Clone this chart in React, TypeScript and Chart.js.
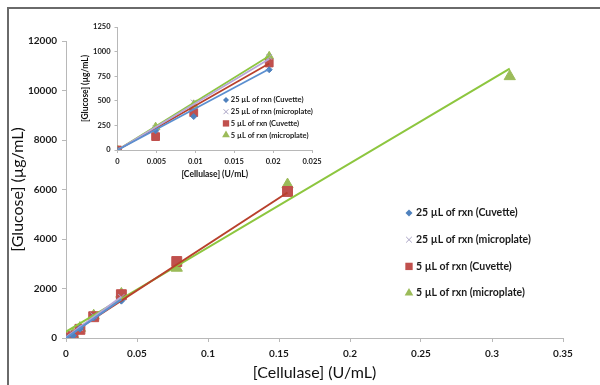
import React, { useEffect, useRef } from 'react';
import { Chart, registerables } from 'chart.js';

Chart.register(...registerables);

// ---------- data ----------
const seriesNames = [
  '25 µL of rxn (Cuvette)',
  '25 µL of rxn (microplate)',
  '5 µL of rxn (Cuvette)',
  '5 µL of rxn (microplate)',
];

// main chart: cellulase (U/mL)
const mainX = [0, 0.0049, 0.0098, 0.0195, 0.039, 0.078, 0.156, 0.3125];
const cuvette25 = [0, 100, 380, 830, 1510];
const micro25 = [0, 150, 420, 900, 1650];
const cuvette5 = [0, 80, 350, 860, 1750, 3090, 5920];
const micro5 = [0, 150, 400, 900, 1780, 2830, 6200, 10570];

// main chart trendline end points
const trendCuvette25X = [0, 0.039];
const trendCuvette25Y = [0, 1560];
const trendMicro25X = [0, 0.039];
const trendMicro25Y = [30, 1660];
const trendCuvette5X = [0, 0.156];
const trendCuvette5Y = [50, 5880];
const trendMicro5X = [0, 0.3125];
const trendMicro5Y = [255, 10880];

// inset chart
const insetX = [0, 0.0049, 0.0098, 0.0195];
const insetCuvette25 = [0, 195, 340, 816];
const insetMicro25 = [0, 221, 483, 946];
const insetCuvette5 = [0, 136, 380, 884];
const insetMicro5 = [0, 232, 459, 952];

const insetTrendX = [0, 0.0195];
const insetTrendCuvette25Y = [0, 823];
const insetTrendMicro25Y = [0, 925];
const insetTrendCuvette5Y = [0, 880];
const insetTrendMicro5Y = [0, 955];

// axes
const mainXMax = 0.35;
const mainXStep = 0.05;
const mainYMax = 12000;
const mainYStep = 2000;
const insetXMax = 0.025;
const insetXStep = 0.005;
const insetYMax = 1250;
const insetYStep = 250;

// ---------- styles ----------
const FONT = 'Lato, "Open Sans", sans-serif';
const markerStyles = [
  { style: 'rectRot', fill: '#4F81BD', stroke: '#4F81BD' },
  { style: 'crossRot', fill: 'rgba(0,0,0,0)', stroke: '#A9A3C4' },
  { style: 'rect', fill: '#C0504D', stroke: '#C0504D' },
  { style: 'triangle', fill: '#9BBB59', stroke: '#9BBB59' },
];
const lineColors = ['#5B8FD0', '#B7A7D8', '#B8402C', '#8DC63F'];
const AXIS = '#b8b8b8';

const pts = (xs: number[], ys: number[]) => ys.map((y, i) => ({ x: xs[i], y }));

function drawMarker(ctx: CanvasRenderingContext2D, style: string, x: number, y: number, r: number, fill: string, stroke: string) {
  ctx.save();
  ctx.fillStyle = fill;
  ctx.strokeStyle = stroke;
  ctx.lineWidth = 1;
  ctx.beginPath();
  if (style === 'rectRot') {
    ctx.moveTo(x, y - r);
    ctx.lineTo(x + r, y);
    ctx.lineTo(x, y + r);
    ctx.lineTo(x - r, y);
    ctx.closePath();
    ctx.fill();
  } else if (style === 'rect') {
    const s = r * Math.SQRT1_2;
    ctx.rect(x - s, y - s, 2 * s, 2 * s);
    ctx.fill();
  } else if (style === 'triangle') {
    ctx.moveTo(x, y - r);
    ctx.lineTo(x + r * 0.866, y + r * 0.5);
    ctx.lineTo(x - r * 0.866, y + r * 0.5);
    ctx.closePath();
    ctx.fill();
  } else {
    const s = r * Math.SQRT1_2;
    ctx.moveTo(x - s, y - s);
    ctx.lineTo(x + s, y + s);
    ctx.moveTo(x + s, y - s);
    ctx.lineTo(x - s, y + s);
    ctx.stroke();
  }
  ctx.restore();
}

function legendPlugin(id: string, x0: number, y0: number, dy: number, gap: number, fontSize: number, radii: number[]) {
  return {
    id,
    afterDraw(chart: any) {
      const ctx = chart.ctx as CanvasRenderingContext2D;
      ctx.save();
      ctx.font = `bold ${fontSize}px ${FONT}`;
      ctx.fillStyle = '#1a1a1a';
      ctx.textBaseline = 'middle';
      ctx.textAlign = 'left';
      seriesNames.forEach((name, i) => {
        const y = y0 + i * dy;
        const m = markerStyles[i];
        drawMarker(ctx, m.style, x0, y, radii[i], m.fill, m.stroke);
        ctx.fillText(name, x0 + gap, y);
      });
      ctx.restore();
    },
  };
}

const fmt = (v: any) => String(+Number(v).toFixed(4));

function pointSet(xs: number[], ys: number[], i: number, r: number) {
  const m = markerStyles[i];
  return {
    label: seriesNames[i],
    data: pts(xs, ys),
    showLine: false,
    pointStyle: m.style,
    pointRadius: r,
    pointBackgroundColor: m.fill,
    pointBorderColor: m.stroke,
    pointBorderWidth: 1,
    order: 1,
  };
}

function trendSet(xs: number[], ys: number[], i: number, w: number) {
  return {
    label: 'trend ' + seriesNames[i],
    data: pts(xs, ys),
    showLine: true,
    borderColor: lineColors[i],
    borderWidth: w,
    pointRadius: 0,
    order: 0,
  };
}

export default function App() {
  const mainRef = useRef<HTMLCanvasElement>(null);
  const insetRef = useRef<HTMLCanvasElement>(null);

  useEffect(() => {
    Chart.defaults.font.family = FONT;
    const mainRadii = [3.5, 4.5, 7, 6.5];
    const main = new Chart(mainRef.current as HTMLCanvasElement, {
      type: 'scatter',
      data: {
        datasets: [
          trendSet(trendCuvette25X, trendCuvette25Y, 0, 2),
          trendSet(trendMicro25X, trendMicro25Y, 1, 2),
          trendSet(trendCuvette5X, trendCuvette5Y, 2, 2),
          trendSet(trendMicro5X, trendMicro5Y, 3, 2),
          pointSet(mainX, cuvette25, 0, mainRadii[0]),
          pointSet(mainX, micro25, 1, mainRadii[1]),
          pointSet(mainX, cuvette5, 2, mainRadii[2]),
          pointSet(mainX, micro5, 3, mainRadii[3]),
        ] as any,
      },
      options: {
        responsive: false,
        animation: false,
        events: [],
        layout: { padding: { top: 41, right: 37, left: 0, bottom: 0 } },
        plugins: { legend: { display: false }, tooltip: { enabled: false } },
        scales: {
          x: {
            type: 'linear',
            min: 0,
            max: mainXMax,
            afterFit: (s: any) => { s.height = 47; },
            ticks: { stepSize: mainXStep, callback: fmt, color: '#1a1a1a', font: { size: 10, weight: 'bold' }, padding: 6, maxRotation: 0 },
            grid: { drawOnChartArea: false, drawTicks: true, tickLength: 4, color: AXIS },
            border: { color: AXIS },
            title: { display: true, text: '[Cellulase] (U/mL)', color: '#111', font: { size: 16 }, padding: { top: 0, bottom: 3 } },
          },
          y: {
            type: 'linear',
            min: 0,
            max: mainYMax,
            afterFit: (s: any) => { s.width = 66; },
            ticks: { stepSize: mainYStep, callback: fmt, color: '#1a1a1a', font: { size: 10, weight: 'bold' }, padding: 5 },
            grid: { drawOnChartArea: false, drawTicks: true, tickLength: 4, color: AXIS },
            border: { color: AXIS },
            title: { display: true, text: '[Glucose] (µg/mL)', color: '#111', font: { size: 16 }, padding: { top: 8, bottom: 0 } },
          },
        },
      } as any,
      plugins: [legendPlugin('mainLegend', 409, 213, 26.7, 7, 10.5, [3.5, 4, 5.2, 5])],
    });

    const insetRadii = [3, 4, 5.5, 5];
    const inset = new Chart(insetRef.current as HTMLCanvasElement, {
      type: 'scatter',
      data: {
        datasets: [
          trendSet(insetTrendX, insetTrendCuvette25Y, 0, 1.8),
          trendSet(insetTrendX, insetTrendMicro25Y, 1, 1.8),
          trendSet(insetTrendX, insetTrendCuvette5Y, 2, 1.8),
          trendSet(insetTrendX, insetTrendMicro5Y, 3, 1.8),
          pointSet(insetX, insetCuvette25, 0, insetRadii[0]),
          pointSet(insetX, insetMicro25, 1, insetRadii[1]),
          pointSet(insetX, insetCuvette5, 2, insetRadii[2]),
          pointSet(insetX, insetMicro5, 3, insetRadii[3]),
        ] as any,
      },
      options: {
        responsive: false,
        animation: false,
        events: [],
        layout: { padding: { top: 15, right: 23, left: 0, bottom: 0 } },
        plugins: { legend: { display: false }, tooltip: { enabled: false } },
        scales: {
          x: {
            type: 'linear',
            min: 0,
            max: insetXMax,
            afterFit: (s: any) => { s.height = 32; },
            ticks: { stepSize: insetXStep, callback: fmt, color: '#1a1a1a', font: { size: 7.5, weight: 'bold' }, padding: 4, maxRotation: 0, autoSkip: false },
            grid: { drawOnChartArea: false, drawTicks: true, tickLength: 3, color: AXIS },
            border: { color: AXIS },
            title: { display: true, text: '[Cellulase] (U/mL)', color: '#111', font: { size: 8.5, weight: 'bold' }, padding: { top: 0, bottom: 3 } },
          },
          y: {
            type: 'linear',
            min: 0,
            max: insetYMax,
            afterFit: (s: any) => { s.width = 42.5; },
            ticks: { stepSize: insetYStep, callback: fmt, color: '#1a1a1a', font: { size: 7.5, weight: 'bold' }, padding: 4 },
            grid: { drawOnChartArea: false, drawTicks: true, tickLength: 3, color: AXIS },
            border: { color: AXIS },
            title: { display: true, text: '[Glucose] (µg/mL)', color: '#111', font: { size: 8.5, weight: 'bold' }, padding: { top: 5, bottom: 0 } },
          },
        },
      } as any,
      plugins: [legendPlugin('insetLegend', 151, 88, 11.7, 4.8, 7.5, [3, 3.5, 4.5, 4.5])],
    });

    return () => {
      main.destroy();
      inset.destroy();
    };
  }, []);

  return (
    <div style={{ position: 'fixed', left: 0, top: 0, width: 600, height: 385, overflow: 'hidden', background: '#fff' }}>
      <div style={{ position: 'absolute', left: 7, top: 7, width: 700, height: 500, borderTop: '2px solid #6a6a6a', borderLeft: '2px solid #6a6a6a' }} />
      <canvas ref={mainRef} width={600} height={385} style={{ position: 'absolute', left: 0, top: 0, width: 600, height: 385 }} />
      <canvas ref={insetRef} width={260} height={170} style={{ position: 'absolute', left: 75, top: 12, width: 260, height: 170 }} />
    </div>
  );
}
